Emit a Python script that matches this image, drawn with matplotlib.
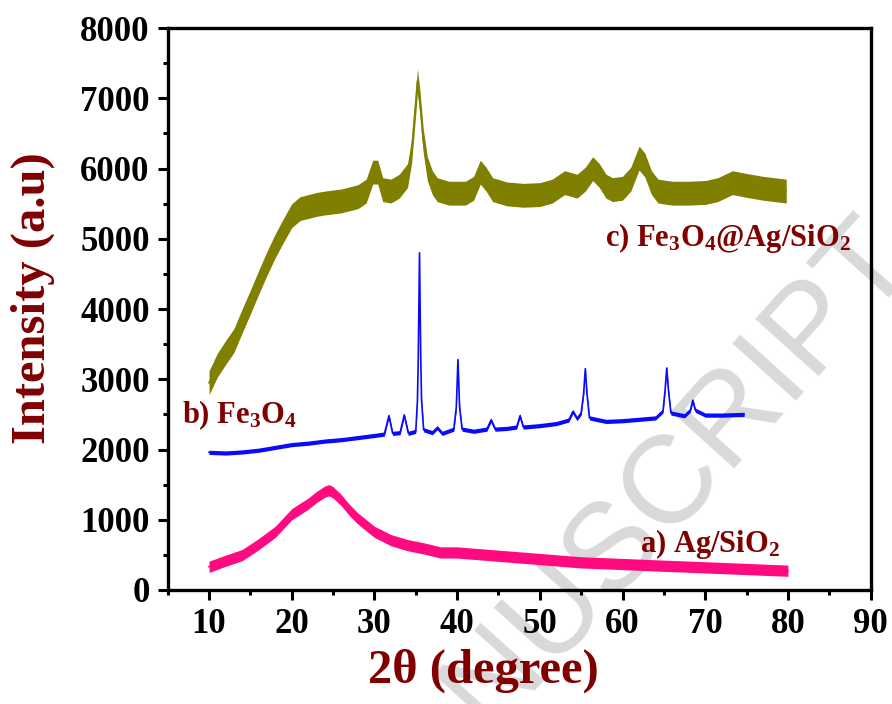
import numpy as np
import matplotlib.pyplot as plt
from matplotlib.ticker import MultipleLocator

plt.rcParams.update({
    "font.family": "Liberation Serif",
    "font.weight": "bold",
    "axes.labelweight": "bold",
    "mathtext.fontset": "custom",
    "mathtext.rm": "Liberation Serif:bold",
    "mathtext.it": "Liberation Serif:bold",
    "mathtext.bf": "Liberation Serif:bold",
    "mathtext.default": "rm",
})

DARK_RED = "#800000"

# ---------------------------------------------------------------------------
# Data (2theta in degrees, intensity in a.u.)
# ---------------------------------------------------------------------------
# a) Ag/SiO2 -- broad amorphous hump
a_x = [10, 12, 14, 16, 18, 20, 22, 23, 24, 24.5, 25, 26, 27, 28, 30, 32, 34, 36,
       38, 40, 45, 50, 55, 60, 65, 70, 75, 80]
a_y = [330, 416, 496, 652, 827, 1078, 1230, 1324, 1400, 1420, 1390, 1277, 1135,
       1017, 827, 709, 638, 591, 534, 534, 487, 440, 393, 369, 345, 322, 298, 274]
a_noise = 80

# b) Fe3O4 -- sharp reflections
b_x = [10, 12, 14, 16, 18, 20, 22, 24, 26, 28, 30, 31.2, 31.75, 32.2, 33.1, 33.6,
       34.1, 35.0, 35.2, 35.3, 35.45, 35.6, 35.7, 35.95, 37.0, 37.6, 38.2, 39.6,
       39.9, 40.1, 40.3, 40.6, 42, 43.6, 44.1, 44.6, 46, 47.2, 47.6, 48.0, 50, 52,
       53.5, 54.0, 54.5, 55.0, 55.3, 55.5, 55.7, 56.0, 58, 60, 62, 64, 64.9, 65.15,
       65.35, 65.55, 65.85, 67.5, 68.2, 68.5, 68.8, 70, 72, 74.7]
b_y = [1960, 1950, 1965, 1990, 2030, 2070, 2090, 2120, 2140, 2170, 2200, 2220,
       2480, 2230, 2240, 2490, 2230, 2260, 2700, 3300, 4800, 3300, 2700, 2280,
       2240, 2310, 2230, 2290, 2600, 3280, 2600, 2290, 2260, 2290, 2420, 2290,
       2300, 2320, 2480, 2320, 2340, 2370, 2420, 2540, 2440, 2520, 2800, 3150,
       2800, 2450, 2400, 2410, 2430, 2450, 2550, 2850, 3160, 2850, 2520, 2480,
       2560, 2700, 2560, 2490, 2490, 2500]
b_noise = 30

# c) Fe3O4@Ag/SiO2 -- rising background with broad reflections
c_x = [10, 11, 12, 13, 14, 15, 16, 17, 18, 19, 20, 21, 22, 23, 24, 26, 28, 29,
       29.8, 30.4, 31, 32, 33, 34, 34.5, 35.0, 35.2, 35.5, 35.9, 36.4, 37.0, 37.6,
       39, 41, 42, 42.8, 43.5, 44.3, 46, 48, 50, 51.5, 53, 54.5, 55.5, 56.4, 57.2,
       58, 58.8, 60, 61, 62, 62.7, 63.5, 64.3, 66, 68, 70, 71.5, 73.3, 75, 77, 79.8]
c_y = [2950, 3200, 3380, 3550, 3830, 4100, 4380, 4650, 4900, 5120, 5330, 5430,
       5460, 5490, 5510, 5540, 5600, 5680, 5950, 5950, 5700, 5680, 5750, 5900,
       6250, 6950, 7250, 6950, 6400, 6000, 5800, 5700, 5650, 5650, 5720, 5950,
       5850, 5700, 5640, 5620, 5630, 5680, 5800, 5750, 5850, 6000, 5900, 5750,
       5700, 5720, 5850, 6150, 6050, 5800, 5680, 5650, 5650, 5660, 5700, 5800,
       5760, 5720, 5680]
c_noise = 170

x_ticks = list(range(10, 91, 10))
y_ticks = list(range(0, 8001, 1000))

# ---------------------------------------------------------------------------
# Figure
# ---------------------------------------------------------------------------
fig = plt.figure(figsize=(8.92, 7.04), dpi=100)
ax = fig.add_axes([0.188, 0.162, 0.788, 0.798])

series = [
    (a_x, a_y, a_noise, "#ff0a80"),
    (b_x, b_y, b_noise, "#0a0aff"),
    (c_x, c_y, c_noise, "#808000"),
]
for xs, ys, w, col in series:
    xs = np.asarray(xs, float)
    ys = np.asarray(ys, float)
    ax.fill_between(xs, ys - w, ys + w, color=col, lw=0, zorder=2)
    ax.plot(xs, ys, color=col, lw=1.2, zorder=3)

# sample labels
ax.text(57.9, 4900, r"c) Fe$_3$O$_4$@Ag/SiO$_2$", fontsize=22,
        color=DARK_RED, ha="left", va="baseline", zorder=4)
ax.text(6.7, 2375, r"b) Fe$_3$O$_4$", fontsize=22,
        color=DARK_RED, ha="left", va="baseline", zorder=4)
ax.text(62.1, 540, r"a) Ag/SiO$_2$", fontsize=22,
        color=DARK_RED, ha="left", va="baseline", zorder=4)

# journal watermark
ax.text(1.03, 0.625, "ACCEPTED MANUSCRIPT", transform=fig.transFigure,
        fontsize=90, family="Liberation Sans", fontweight="normal",
        color="#d9d9d9", rotation=48, rotation_mode="anchor",
        ha="right", va="baseline", clip_on=False, zorder=1)

ax.set_xlim(5, 90)
ax.set_ylim(0, 8000)
ax.set_xticks(x_ticks)
ax.set_yticks(y_ticks)
ax.xaxis.set_minor_locator(MultipleLocator(5))
ax.yaxis.set_minor_locator(MultipleLocator(500))
ax.tick_params(which="major", direction="out", length=7, width=2.2,
               labelsize=25, pad=6)
ax.tick_params(which="minor", direction="out", length=3.5, width=2.2)
ax.tick_params(top=False, right=False)
for sp in ax.spines.values():
    sp.set_linewidth(2.4)

ax.set_xlabel("2\u03b8 (degree)", fontsize=35, color=DARK_RED,
              fontweight="bold")
ax.set_ylabel("Intensity (a.u)", fontsize=35, color=DARK_RED,
              fontweight="bold")
ax.xaxis.set_label_coords(0.449, -0.105)
ax.yaxis.set_label_coords(-0.161, 0.519)

fig.savefig("out.png", dpi=100)
